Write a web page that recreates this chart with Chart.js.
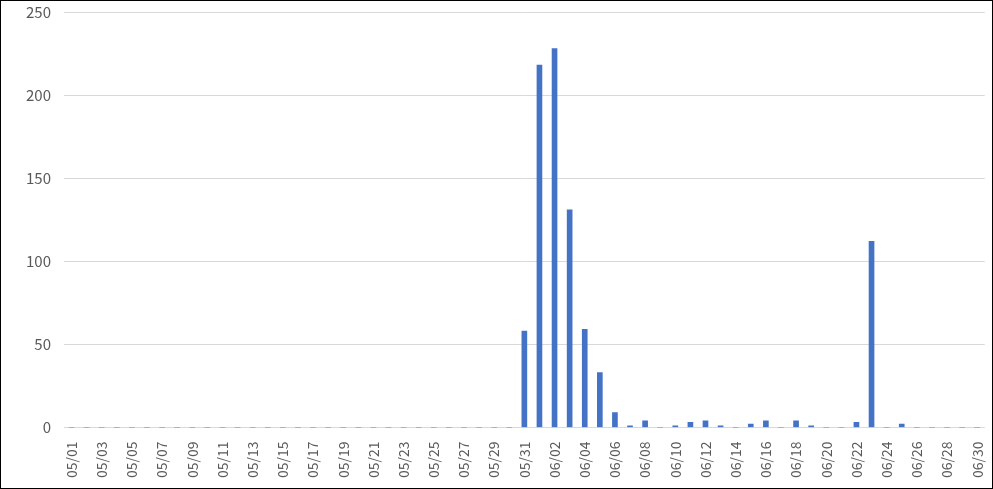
<!DOCTYPE html>
<html>
<head>
<meta charset="utf-8">
<script src="https://cdn.jsdelivr.net/npm/chart.js@4"></script>
<style>
  html, body { margin: 0; padding: 0; background: #fff; }
  #wrap { width: 991px; height: 487px; border: 1px solid #000; position: relative; overflow: hidden; }
  #dailyChart { position: absolute; left: 0; top: -11px; }
</style>
</head>
<body>
<div id="wrap"><canvas id="dailyChart" width="999" height="498"></canvas></div>
<script>
// days 05/01 .. 06/30
const mayDays = ['05/01','05/02','05/03','05/04','05/05','05/06','05/07','05/08','05/09','05/10',
  '05/11','05/12','05/13','05/14','05/15','05/16','05/17','05/18','05/19','05/20',
  '05/21','05/22','05/23','05/24','05/25','05/26','05/27','05/28','05/29','05/30','05/31'];
const juneDays = ['06/01','06/02','06/03','06/04','06/05','06/06','06/07','06/08','06/09','06/10',
  '06/11','06/12','06/13','06/14','06/15','06/16','06/17','06/18','06/19','06/20',
  '06/21','06/22','06/23','06/24','06/25','06/26','06/27','06/28','06/29','06/30'];
const labels = mayDays.concat(juneDays);

const mayValues = [0,0,0,0,0,0,0,0,0,0, 0,0,0,0,0,0,0,0,0,0, 0,0,0,0,0,0,0,0,0,0, 58];
const juneValues = [218,228,131,59,33,9,1,4,0,1, 3,4,1,0,2,4,0,4,1,0, 0,3,112,0,2,0,0,0,0,0];
const values = mayValues.concat(juneValues);

const yTicks = [0, 50, 100, 150, 200, 250];

const ctx = document.getElementById('dailyChart').getContext('2d');
new Chart(ctx, {
  type: 'bar',
  data: {
    labels: labels,
    datasets: [{
      data: values,
      backgroundColor: '#4472C4',
      borderWidth: 0,
      barThickness: 5
    }]
  },
  options: {
    responsive: false,
    animation: false,
    layout: { padding: { left: 12, right: 0, top: 0, bottom: 4 } },
    plugins: { legend: { display: false }, tooltip: { enabled: false } },
    scales: {
      x: {
        grid: { display: false },
        border: { display: false },
        ticks: {
          autoSkip: false,
          minRotation: 90,
          maxRotation: 90,
          padding: 6,
          color: '#595959',
          font: { family: 'Noto Sans CJK JP', size: 14 },
          callback: (v, i) => (i % 2 === 0 ? labels[i] : '')
        }
      },
      y: {
        min: 0,
        max: 250,
        afterBuildTicks: axis => { axis.ticks = yTicks.map(v => ({ value: v })); },
        grid: { color: '#d9d9d9', drawTicks: false },
        border: { display: false },
        ticks: {
          padding: 13,
          color: '#595959',
          font: { family: 'Noto Sans CJK JP', size: 15 }
        }
      }
    }
  }
});
</script>
</body>
</html>
